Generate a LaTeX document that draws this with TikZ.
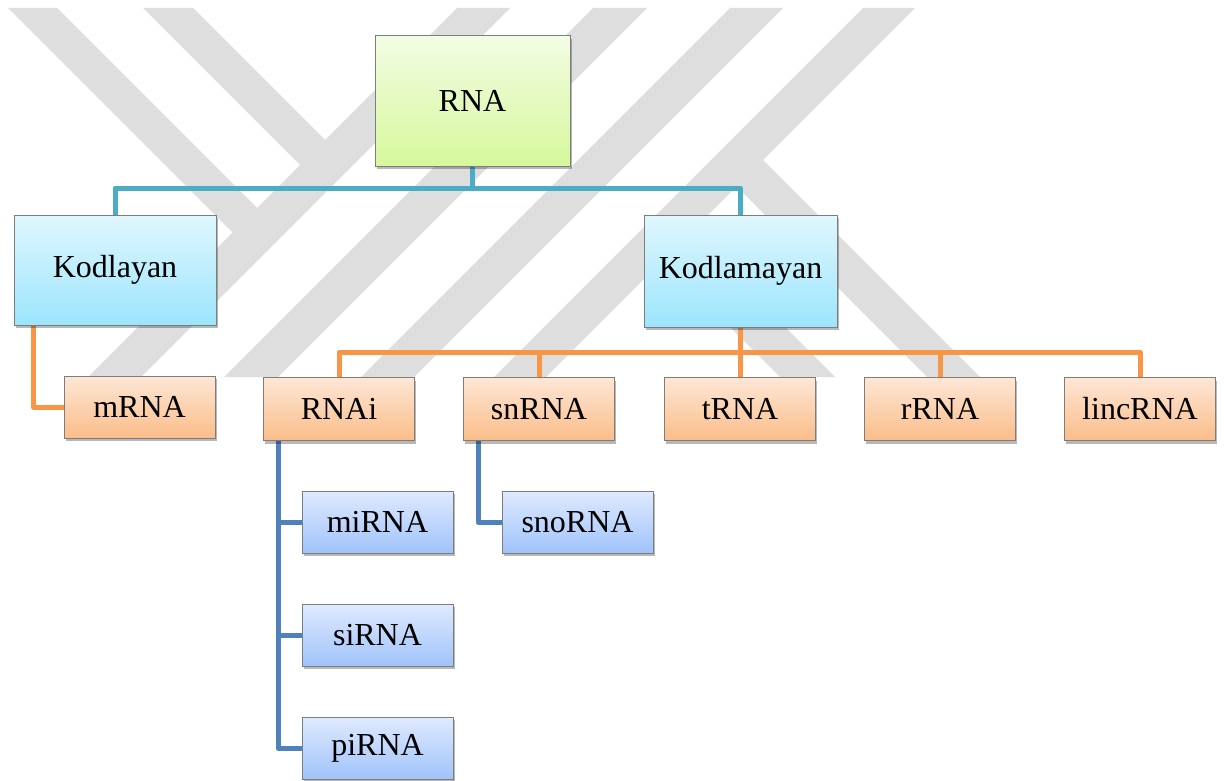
\documentclass[tikz,border=0pt]{standalone}
\usepackage{fontspec}
\setmainfont{Liberation Serif}
\usetikzlibrary{calc,shadows}

\definecolor{wmgray}{RGB}{222,222,222}
\definecolor{rootTop}{RGB}{243,252,228}
\definecolor{rootBot}{RGB}{214,248,156}
\definecolor{cyanTop}{RGB}{224,247,254}
\definecolor{cyanBot}{RGB}{156,229,252}
\definecolor{peachTop}{RGB}{253,231,214}
\definecolor{peachBot}{RGB}{251,189,137}
\definecolor{skyTop}{RGB}{223,234,254}
\definecolor{skyBot}{RGB}{160,195,250}
\definecolor{tealLine}{RGB}{75,172,198}
\definecolor{orangeLine}{RGB}{247,150,70}
\definecolor{blueLine}{RGB}{79,129,189}
\definecolor{boxEdge}{RGB}{125,125,125}

\pgfdeclarelayer{wm}
\pgfdeclarelayer{lines}
\pgfsetlayers{wm,lines,main}

\begin{document}
\begin{tikzpicture}[x=1pt,y=-1pt,
  box/.style={draw=boxEdge, line width=1pt, inner sep=0pt, align=center,
    font=\fontsize{32}{38}\selectfont,
    drop shadow={shadow xshift=1.5pt, shadow yshift=-3pt,
      fill=black, opacity=0.28}},
  rootbox/.style={box, top color=rootTop, bottom color=rootBot,
    minimum width=195pt, minimum height=130pt},
  midbox/.style={box, top color=cyanTop, bottom color=cyanBot,
    minimum height=110pt},
  leafbox/.style={box, top color=peachTop, bottom color=peachBot,
    minimum width=151pt, minimum height=63pt},
  subbox/.style={box, top color=skyTop, bottom color=skyBot,
    minimum width=151pt, minimum height=62pt},
  wire/.style={line width=5pt, line join=round},
  tealwire/.style={wire, draw=tealLine},
  orangewire/.style={wire, draw=orangeLine},
  bluewire/.style={wire, draw=blueLine}
]
\useasboundingbox (0,0) rectangle (1225,781);

% background emblem made of diagonal stripes
\begin{pgfonlayer}{wm}
  \fill[wmgray] (8,8) -- (57,8) -- (257,208) -- (232.5,232.5) -- cycle;
  \fill[wmgray] (143,8) -- (193,8) -- (325,140) -- (300,165) -- cycle;
  \fill[wmgray] (457,8) -- (510,8) -- (141,377) -- (88,377) -- cycle;
  \fill[wmgray] (593,8) -- (647,8) -- (278,377) -- (224,377) -- cycle;
  \fill[wmgray] (730,8) -- (783,8) -- (414,377) -- (361,377) -- cycle;
  \fill[wmgray] (863,8) -- (915,8) -- (546,377) -- (494,377) -- cycle;
  \fill[wmgray] (763,160) -- (980,377) -- (927,377) -- (736.5,186.5) -- cycle;
  \fill[wmgray] (690.5,232.5) -- (835,377) -- (780,377) -- (663,260) -- cycle;
\end{pgfonlayer}

% boxes
\node[rootbox] (RNA) at (472.5,101) {RNA};
\node[midbox, minimum width=202pt] (Kodlayan) at (115,270) {Kodlayan};
\node[midbox, minimum width=193pt, minimum height=112pt] (Kodlamayan) at (740.5,271) {Kodlamayan};

\node[leafbox, minimum height=62pt] (mRNA) at (139.5,407) {mRNA};
\node[leafbox] (RNAi)    at (339,409)  {RNAi};
\node[leafbox] (snRNA)   at (539,409)  {snRNA};
\node[leafbox] (tRNA)    at (740,409)  {tRNA};
\node[leafbox] (rRNA)    at (940,409)  {rRNA};
\node[leafbox] (lincRNA) at (1140,409) {lincRNA};

\node[subbox] (miRNA)  at (377.5,522) {miRNA};
\node[subbox] (siRNA)  at (377.5,635) {siRNA};
\node[subbox] (piRNA)  at (377.5,748) {piRNA};
\node[subbox] (snoRNA) at (577.5,522) {snoRNA};

% connectors
\coordinate (topjoin) at (472.5,188);
\coordinate (ncjoin) at (740.5,352);
\coordinate (kodfoot) at ($(Kodlayan.south west)+(20,0)$);
\coordinate (rnaifoot) at ($(RNAi.south west)+(15,0)$);
\coordinate (snfoot) at ($(snRNA.south west)+(15,0)$);

\begin{pgfonlayer}{lines}
  \draw[tealwire] (RNA.south) -- (topjoin);
  \draw[tealwire] (Kodlayan.north) |- (topjoin) -| (Kodlamayan.north);

  \draw[orangewire] (kodfoot) |- (mRNA.west);
  \draw[orangewire] (Kodlamayan.south) -- (ncjoin);
  \draw[orangewire] (RNAi.north) |- (ncjoin) -| (lincRNA.north);
  \draw[orangewire] (snRNA.north) -- (snRNA.north |- ncjoin);
  \draw[orangewire] (tRNA.north) -- (tRNA.north |- ncjoin);
  \draw[orangewire] (rRNA.north) -- (rRNA.north |- ncjoin);

  \draw[bluewire] (rnaifoot) |- (piRNA.west);
  \draw[bluewire] (rnaifoot |- miRNA.west) -- (miRNA.west);
  \draw[bluewire] (rnaifoot |- siRNA.west) -- (siRNA.west);
  \draw[bluewire] (snfoot) |- (snoRNA.west);
\end{pgfonlayer}
\end{tikzpicture}
\end{document}
